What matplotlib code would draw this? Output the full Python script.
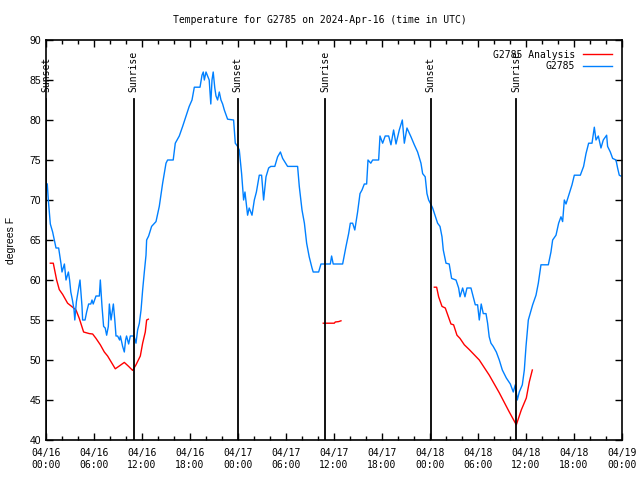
import numpy as np
import pandas as pd
import matplotlib
matplotlib.use('Agg')
import matplotlib.pyplot as plt
import matplotlib.dates as mdates

# ==================== 数据 ====================
START = pd.Timestamp('2024-04-16 00:00')

# 观测值 G2785（小时偏移, 温度 F）
obs_hours = [0.16, 0.29, 0.54, 0.83, 1.25, 1.58, 1.88, 2.0, 2.3, 2.5, 2.8, 2.95, 3.1, 3.3,
             3.5, 3.6, 3.8, 4.25, 4.4, 4.5, 4.58, 4.88, 5.08, 5.33, 5.6, 5.75, 5.9, 6.25,
             6.67, 6.79, 7.0, 7.2, 7.4, 7.58, 7.79, 7.92, 8.13, 8.42, 8.6, 8.75, 8.95, 9.2,
             9.3, 9.58, 9.79, 9.95, 10.07, 10.33, 10.54, 10.75, 11.0, 11.25, 11.45, 11.67,
             11.88, 12.08, 12.29, 12.5, 12.58, 12.83, 13.2, 13.75, 14.16, 14.58, 15.0, 15.2,
             15.9, 16.16, 16.66, 17.08, 17.37, 17.9, 18.25, 18.54, 19.25, 19.5, 19.66, 19.79,
             20.0, 20.2, 20.4, 20.6, 20.75, 20.9, 21.1, 21.25, 21.45, 21.66, 21.87, 22.08,
             22.29, 22.7, 23.45, 23.66, 23.95, 24.16, 24.45, 24.7, 24.87, 25.2, 25.4, 25.75,
             26.04, 26.3, 26.66, 26.95, 27.2, 27.5, 27.83, 28.1, 28.6, 28.95, 29.3, 29.58,
             30.2, 31.45, 31.66, 32.0, 32.3, 32.58, 32.9, 33.25, 33.4, 34.08, 34.37, 35.54,
             35.7, 35.9, 37.08, 37.5, 37.83, 38.04, 38.33, 38.6, 38.95, 39.25, 39.5, 39.79,
             40.08, 40.25, 40.6, 40.83, 41.58, 41.75, 42.08, 42.4, 42.83, 43.12, 43.45, 43.75,
             44.16, 44.54, 44.79, 45.12, 45.62, 46.04, 46.45, 46.87, 47.08, 47.4, 47.62, 47.83,
             48.04, 48.33, 48.75, 48.95, 49.25, 49.5, 49.66, 50.0, 50.4, 50.7, 51.25, 51.58,
             51.75, 52.08, 52.37, 52.62, 53.12, 53.4, 53.66, 53.95, 54.16, 54.4, 54.66, 55.0,
             55.2, 55.4, 55.62, 55.9, 56.29, 56.66, 57.04, 57.54, 58.04, 58.41, 58.66, 58.91,
             59.16, 59.54, 59.79, 60.0, 60.29, 60.83, 61.25, 61.54, 61.87, 62.79, 63.12, 63.33,
             63.75, 64.08, 64.37, 64.58, 64.79, 65.0, 65.41, 65.75, 66.04, 66.79, 67.2, 67.5,
             67.83, 68.25, 68.54, 68.75, 69.04, 69.37, 69.66, 70.08, 70.2, 70.54, 70.83, 71.25,
             71.45, 71.66, 71.85]
obs_temp = [72, 70, 67, 66, 64, 64, 62, 61, 62, 60, 61, 60, 58.5, 57.5,
            56.3, 55, 57.3, 60, 58, 56.7, 55, 55, 56, 57, 57, 57.5, 57, 58,
            58, 60, 56.7, 54.2, 54, 53.1, 54.2, 57, 55, 57, 55, 53, 53, 52.5,
            53, 51.7, 51, 52.5, 53, 52, 53, 53, 53, 52.1, 53.75, 54.6,
            56.25, 58.75, 61, 63.1, 65, 65.5, 66.7, 67.3, 69.2, 72.1, 74.6, 75,
            75, 77.1, 78, 79.2, 80.1, 81.7, 82.5, 84.1, 84.1, 85.6, 86, 85,
            86, 85.5, 85, 82, 85, 86, 84, 83, 82.5, 83.5, 82.5, 82,
            81.25, 80.1, 80, 77.1, 76.7, 76.25, 73.3, 70, 71, 68.1, 69, 68.1,
            70, 71, 73.1, 73.1, 70, 72.9, 74, 74.2, 74.2, 75.4, 76, 75.2,
            74.2, 74.2, 71.7, 68.75, 67.1, 64.6, 62.9, 61.5, 61, 61, 62, 62,
            63, 62, 62, 64.2, 65.8, 67.1, 67.1, 66.25, 68.5, 70.8, 71.25, 72,
            72, 75, 74.6, 75, 75, 78, 77.1, 78, 78, 76.9, 78.75, 77,
            78.75, 80, 77.1, 79, 77.9, 76.9, 76, 74.6, 73.3, 72.9, 70.8, 70,
            69.6, 69, 67.7, 67.1, 66.7, 65.4, 63.75, 62.1, 62, 60.2, 60, 59,
            57.9, 59, 57.9, 59, 59, 57.9, 56.9, 56.9, 55, 57, 55.8, 55.8,
            54.6, 52.9, 52.1, 51.7, 51, 50, 48.75, 47.75, 47, 46, 46.9, 45,
            46, 46.9, 48.75, 51.7, 55, 56.9, 58.1, 59.6, 61.9, 61.9, 63.5, 65,
            65.6, 67.1, 67.9, 67.3, 70, 69.5, 70.8, 71.9, 73.1, 73.1, 74.2, 75.8,
            77.1, 77.1, 79.1, 77.5, 78, 76.5, 77.5, 78.1, 76.7, 76, 75.2, 75,
            74, 73.1, 73]

# 分析值 G2785 Analysis（三段，中间断开）
ana_hours_1 = [0.54, 0.91, 1.33, 1.66, 2.08, 2.7, 3.33, 3.75, 4.16, 4.7, 5.41, 5.83, 6.25,
               6.79, 7.29, 7.7, 8.12, 8.66, 9.16, 9.79, 10.33, 10.83, 11.25, 11.79, 12.08,
               12.41, 12.58, 12.79]
ana_temp_1 = [62.1, 62.1, 60, 58.8, 58.2, 57.1, 56.6, 56.25, 55.2, 53.5, 53.3, 53.25, 52.7,
              51.9, 51, 50.5, 49.8, 48.9, 49.25, 49.7, 49.2, 48.7, 49.4, 50.5, 52.1,
              53.5, 55, 55.1]
ana_hours_2 = [34.66, 36.04, 36.16, 36.58, 36.87]
ana_temp_2 = [54.6, 54.6, 54.75, 54.8, 54.9]
ana_hours_3 = [48.54, 48.83, 49.08, 49.5, 49.91, 50.62, 50.95, 51.37, 51.75, 52.29, 52.91,
               54.16, 55.41, 56.66, 57.91, 58.79, 59.41, 60.04, 60.41, 60.79]
ana_temp_3 = [59.1, 59.1, 57.9, 56.7, 56.5, 54.5, 54.4, 53.1, 52.7, 51.9, 51.3,
              50, 48.1, 45.9, 43.5, 41.9, 43.75, 45.25, 47.25, 48.75]

# 日出日落（小时偏移）
sun_hours = [0.05, 10.95, 23.97, 34.9, 48.1, 58.8]
sun_labels = ['Sunset', 'Sunrise', 'Sunset', 'Sunrise', 'Sunset', 'Sunrise']


def to_time(hours):
    return START + pd.to_timedelta(np.array(hours), unit='h')


MONO = ['DejaVu Sans Mono']
SANS = ['Liberation Sans', 'DejaVu Sans']

fig = plt.figure(figsize=(6.4, 4.8), dpi=100)
ax = fig.add_axes([46 / 640, 40 / 480, 576 / 640, 400 / 480])

# 分析值（红线）
ax.plot(to_time(ana_hours_1), ana_temp_1, color='#ff0000', lw=1.0, label='G2785 Analysis')
ax.plot(to_time(ana_hours_2), ana_temp_2, color='#ff0000', lw=1.0)
ax.plot(to_time(ana_hours_3), ana_temp_3, color='#ff0000', lw=1.0)
# 观测值（蓝线）
ax.plot(to_time(obs_hours), obs_temp, color='#0080ff', lw=1.0, label='G2785')

# 日出日落竖线
for h, lab in zip(sun_hours, sun_labels):
    t = to_time([h])[0]
    ax.plot([t, t], [40, 82.6], color='black', lw=1.3)
    ax.text(t, 83.5, lab, rotation=90, ha='center', va='bottom',
            fontsize=7, family=MONO)

ax.set_xlim(START, START + pd.Timedelta(hours=72))
ax.set_ylim(40, 90)
ax.set_yticks(np.arange(40, 91, 5))

ax.xaxis.set_major_locator(mdates.HourLocator(byhour=range(0, 24, 6)))
ax.xaxis.set_minor_locator(mdates.HourLocator(byhour=range(0, 24, 2)))
ax.xaxis.set_major_formatter(mdates.DateFormatter('%m/%d\n%H:%M'))

ax.tick_params(axis='both', which='both', direction='in', top=True, right=True)
ax.tick_params(axis='both', which='major', length=5, width=1)
ax.tick_params(axis='x', which='minor', length=3, width=1)
ax.tick_params(axis='x', pad=6)
for lbl in ax.get_xticklabels():
    lbl.set_fontfamily(MONO)
    lbl.set_fontsize(7)
for lbl in ax.get_yticklabels():
    lbl.set_fontfamily(SANS)
    lbl.set_fontsize(7.5)

for sp in ax.spines.values():
    sp.set_linewidth(1.2)

ax.set_ylabel('degrees F', fontsize=7.5, family=SANS, labelpad=10)
fig.text(0.5, 1 - 20 / 480, 'Temperature for G2785 on 2024-Apr-16 (time in UTC)',
         ha='center', va='center', fontsize=7, family=MONO)

ax.legend(loc='upper right', frameon=False, markerfirst=False,
          prop={'family': 'DejaVu Sans Mono', 'size': 7},
          handlelength=3.0, labelspacing=0.15, borderaxespad=0.6, handletextpad=0.8)

plt.savefig('out.png', dpi=100)
plt.close()
